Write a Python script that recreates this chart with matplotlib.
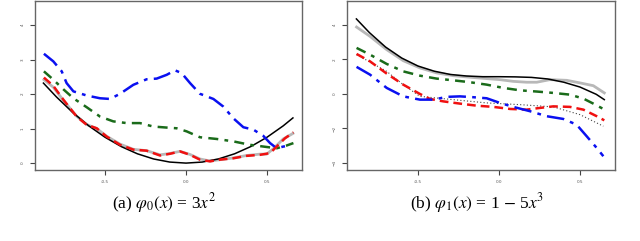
import matplotlib
matplotlib.use("Agg")
import matplotlib.pyplot as plt

# ---- panel (a): phi0(x) = 3x^2 ----
a_black_x = [-0.88, -0.8, -0.7, -0.6, -0.5, -0.4, -0.3, -0.2, -0.1, 0.0, 0.1, 0.2, 0.3, 0.4, 0.5, 0.6, 0.66]
a_black_y = [2.32, 1.92, 1.47, 1.08, 0.75, 0.48, 0.27, 0.12, 0.03, 0.0, 0.03, 0.12, 0.27, 0.48, 0.75, 1.08, 1.31]

a_blue_x = [-0.877, -0.819, -0.767, -0.737, -0.695, -0.613, -0.531, -0.469, -0.407, -0.325, -0.243, -0.181,
            -0.119, -0.068, -0.027, 0.025, 0.086, 0.169, 0.230, 0.292, 0.354, 0.416, 0.477, 0.519, 0.560, 0.601, 0.632]
a_blue_y = [3.17, 2.95, 2.66, 2.32, 2.08, 1.96, 1.88, 1.86, 2.01, 2.27, 2.43, 2.45,
            2.56, 2.69, 2.61, 2.32, 2.01, 1.86, 1.64, 1.30, 1.04, 0.97, 0.79, 0.58, 0.43, 0.48, 0.50]

a_green_x = [-0.877, -0.819, -0.757, -0.695, -0.613, -0.531, -0.449, -0.366, -0.284, -0.202, -0.119, -0.058,
             0.004, 0.086, 0.189, 0.292, 0.395, 0.477, 0.560, 0.621, 0.663]
a_green_y = [2.66, 2.42, 2.14, 1.88, 1.62, 1.35, 1.21, 1.16, 1.16, 1.06, 1.03, 1.01,
             0.92, 0.75, 0.70, 0.63, 0.53, 0.48, 0.43, 0.51, 0.58]

a_red_x = [-0.877, -0.819, -0.757, -0.675, -0.613, -0.551, -0.490, -0.407, -0.325, -0.243, -0.160, -0.099,
           -0.037, 0.025, 0.086, 0.148, 0.210, 0.292, 0.374, 0.457, 0.519, 0.560, 0.611, 0.663]
a_red_y = [2.48, 2.24, 1.84, 1.35, 1.11, 1.01, 0.77, 0.53, 0.39, 0.36, 0.22, 0.27,
           0.34, 0.24, 0.10, 0.05, 0.10, 0.14, 0.21, 0.24, 0.29, 0.48, 0.72, 0.89]

a_gray_x = [-0.877, -0.819, -0.757, -0.675, -0.613, -0.551, -0.490, -0.407, -0.325, -0.243, -0.160, -0.099,
            -0.037, 0.025, 0.086, 0.148, 0.210, 0.292, 0.374, 0.457, 0.498, 0.540, 0.600, 0.660]
a_gray_y = [2.42, 2.20, 1.82, 1.36, 1.12, 1.00, 0.78, 0.55, 0.40, 0.36, 0.24, 0.28,
            0.34, 0.25, 0.12, 0.06, 0.10, 0.15, 0.22, 0.26, 0.26, 0.42, 0.70, 0.86]

# ---- panel (b): phi1(x) = 1 - 5x^3 ----
b_black_x = [-0.88, -0.8, -0.7, -0.6, -0.5, -0.4, -0.3, -0.2, -0.1, 0.0, 0.1, 0.2, 0.3, 0.4, 0.5, 0.6, 0.65]
b_black_y = [4.35, 3.56, 2.72, 2.08, 1.62, 1.32, 1.13, 1.04, 1.0, 1.0, 0.99, 0.96, 0.87, 0.68, 0.40, -0.02, -0.33]

b_gray_x = [-0.879, -0.796, -0.693, -0.591, -0.488, -0.385, -0.282, -0.179, -0.076, 0.006, 0.088, 0.171,
            0.233, 0.315, 0.418, 0.5, 0.582, 0.650]
b_gray_y = [3.88, 3.34, 2.57, 1.93, 1.51, 1.22, 1.06, 0.97, 0.89, 0.83, 0.73, 0.68,
            0.68, 0.83, 0.79, 0.64, 0.48, 0.06]

b_green_x = [-0.879, -0.796, -0.693, -0.591, -0.488, -0.385, -0.282, -0.179, -0.076, 0.027, 0.130, 0.233,
             0.335, 0.438, 0.521, 0.582, 0.644]
b_green_y = [2.67, 2.28, 1.74, 1.31, 1.06, 0.89, 0.79, 0.68, 0.54, 0.35, 0.21, 0.14,
             0.06, -0.04, -0.27, -0.56, -0.87]

b_red_x = [-0.879, -0.796, -0.693, -0.591, -0.488, -0.426, -0.344, -0.241, -0.138, -0.035, 0.068, 0.171,
           0.253, 0.335, 0.438, 0.521, 0.603, 0.650]
b_red_y = [2.32, 1.89, 1.18, 0.54, 0.0, -0.29, -0.43, -0.56, -0.68, -0.75, -0.87, -0.91,
           -0.81, -0.72, -0.75, -0.91, -1.29, -1.53]

b_blue_x = [-0.879, -0.796, -0.693, -0.591, -0.488, -0.405, -0.323, -0.241, -0.158, -0.076, 0.006, 0.088,
            0.191, 0.294, 0.397, 0.479, 0.541, 0.603, 0.644]
b_blue_y = [1.57, 1.12, 0.35, -0.14, -0.33, -0.33, -0.17, -0.14, -0.19, -0.25, -0.52, -0.75,
            -1.00, -1.29, -1.45, -1.78, -2.45, -3.13, -3.61]

b_dot_x = [-0.879, -0.796, -0.693, -0.591, -0.488, -0.282, -0.076, 0.130, 0.335, 0.5, 0.644]
b_dot_y = [2.28, 1.85, 1.31, 0.54, -0.14, -0.33, -0.52, -0.62, -0.75, -1.2, -1.87]

xticks = [-0.5, 0.0, 0.5]
a_yticks = [0, 1, 2, 3, 4]
b_yticks = [-4, -2, 0, 2, 4]

fig = plt.figure(figsize=(6.4, 2.41), dpi=100)
ax1 = fig.add_axes([35 / 640, 1 - 170 / 241, 267 / 640, 169 / 241])
ax2 = fig.add_axes([347 / 640, 1 - 170 / 241, 268 / 640, 169 / 241])

dashdot = (0, (7, 2.5, 1.5, 2.5))
dotdash2 = (0, (4, 2.5, 1.5, 2.5))

# panel a
ax1.plot(a_gray_x, a_gray_y, color="#b8b8b8", lw=2.0)
ax1.plot(a_black_x, a_black_y, color="black", lw=1.1)
ax1.plot(a_green_x, a_green_y, color="#1a6b1a", lw=1.8, linestyle=dotdash2)
ax1.plot(a_blue_x, a_blue_y, color="#0a10f0", lw=1.8, linestyle=dashdot)
ax1.plot(a_red_x, a_red_y, color="#f01010", lw=1.8, linestyle=(0, (3.5, 2)))

# panel b
ax2.plot(b_gray_x, b_gray_y, color="#b8b8b8", lw=2.0)
ax2.plot(b_black_x, b_black_y, color="black", lw=1.1)
ax2.plot(b_dot_x, b_dot_y, color="#444444", lw=0.8, linestyle=(0, (1, 2)))
ax2.plot(b_green_x, b_green_y, color="#1a6b1a", lw=1.8, linestyle=dotdash2)
ax2.plot(b_red_x, b_red_y, color="#f01010", lw=1.8, linestyle=(0, (3.5, 2)))
ax2.plot(b_blue_x, b_blue_y, color="#0a10f0", lw=1.8, linestyle=dashdot)

ax1.set_xlim(-0.932, 0.716)
ax1.set_ylim(-0.2, 4.70)
ax2.set_xlim(-0.938, 0.716)
ax2.set_ylim(-4.41, 5.39)
ax1.set_yticks(a_yticks)
ax2.set_yticks(b_yticks)

for ax in (ax1, ax2):
    ax.set_xticks(xticks)
    ax.set_xticklabels(["-0.5", "0.0", "0.5"])
    for s in ax.spines.values():
        s.set_color("#666666")
        s.set_linewidth(1.0)
    ax.tick_params(axis="both", direction="out", length=3.5, width=0.8, color="#444444",
                   labelsize=3, labelcolor="#555555", pad=4)
    for lab in ax.get_yticklabels():
        lab.set_rotation(90)
        lab.set_va("center")

fig.text(164 / 640, 1 - 203 / 241, r"(a) $\varphi_0(x)$ = 3$x^2$", ha="center", va="center",
         fontsize=12.5, family="Liberation Serif", math_fontfamily="stix")
fig.text(477 / 640, 1 - 203 / 241, r"(b) $\varphi_1(x)$ = 1 $-$ 5$x^3$", ha="center", va="center",
         fontsize=12.5, family="Liberation Serif", math_fontfamily="stix")

fig.savefig("out.png", dpi=100)
